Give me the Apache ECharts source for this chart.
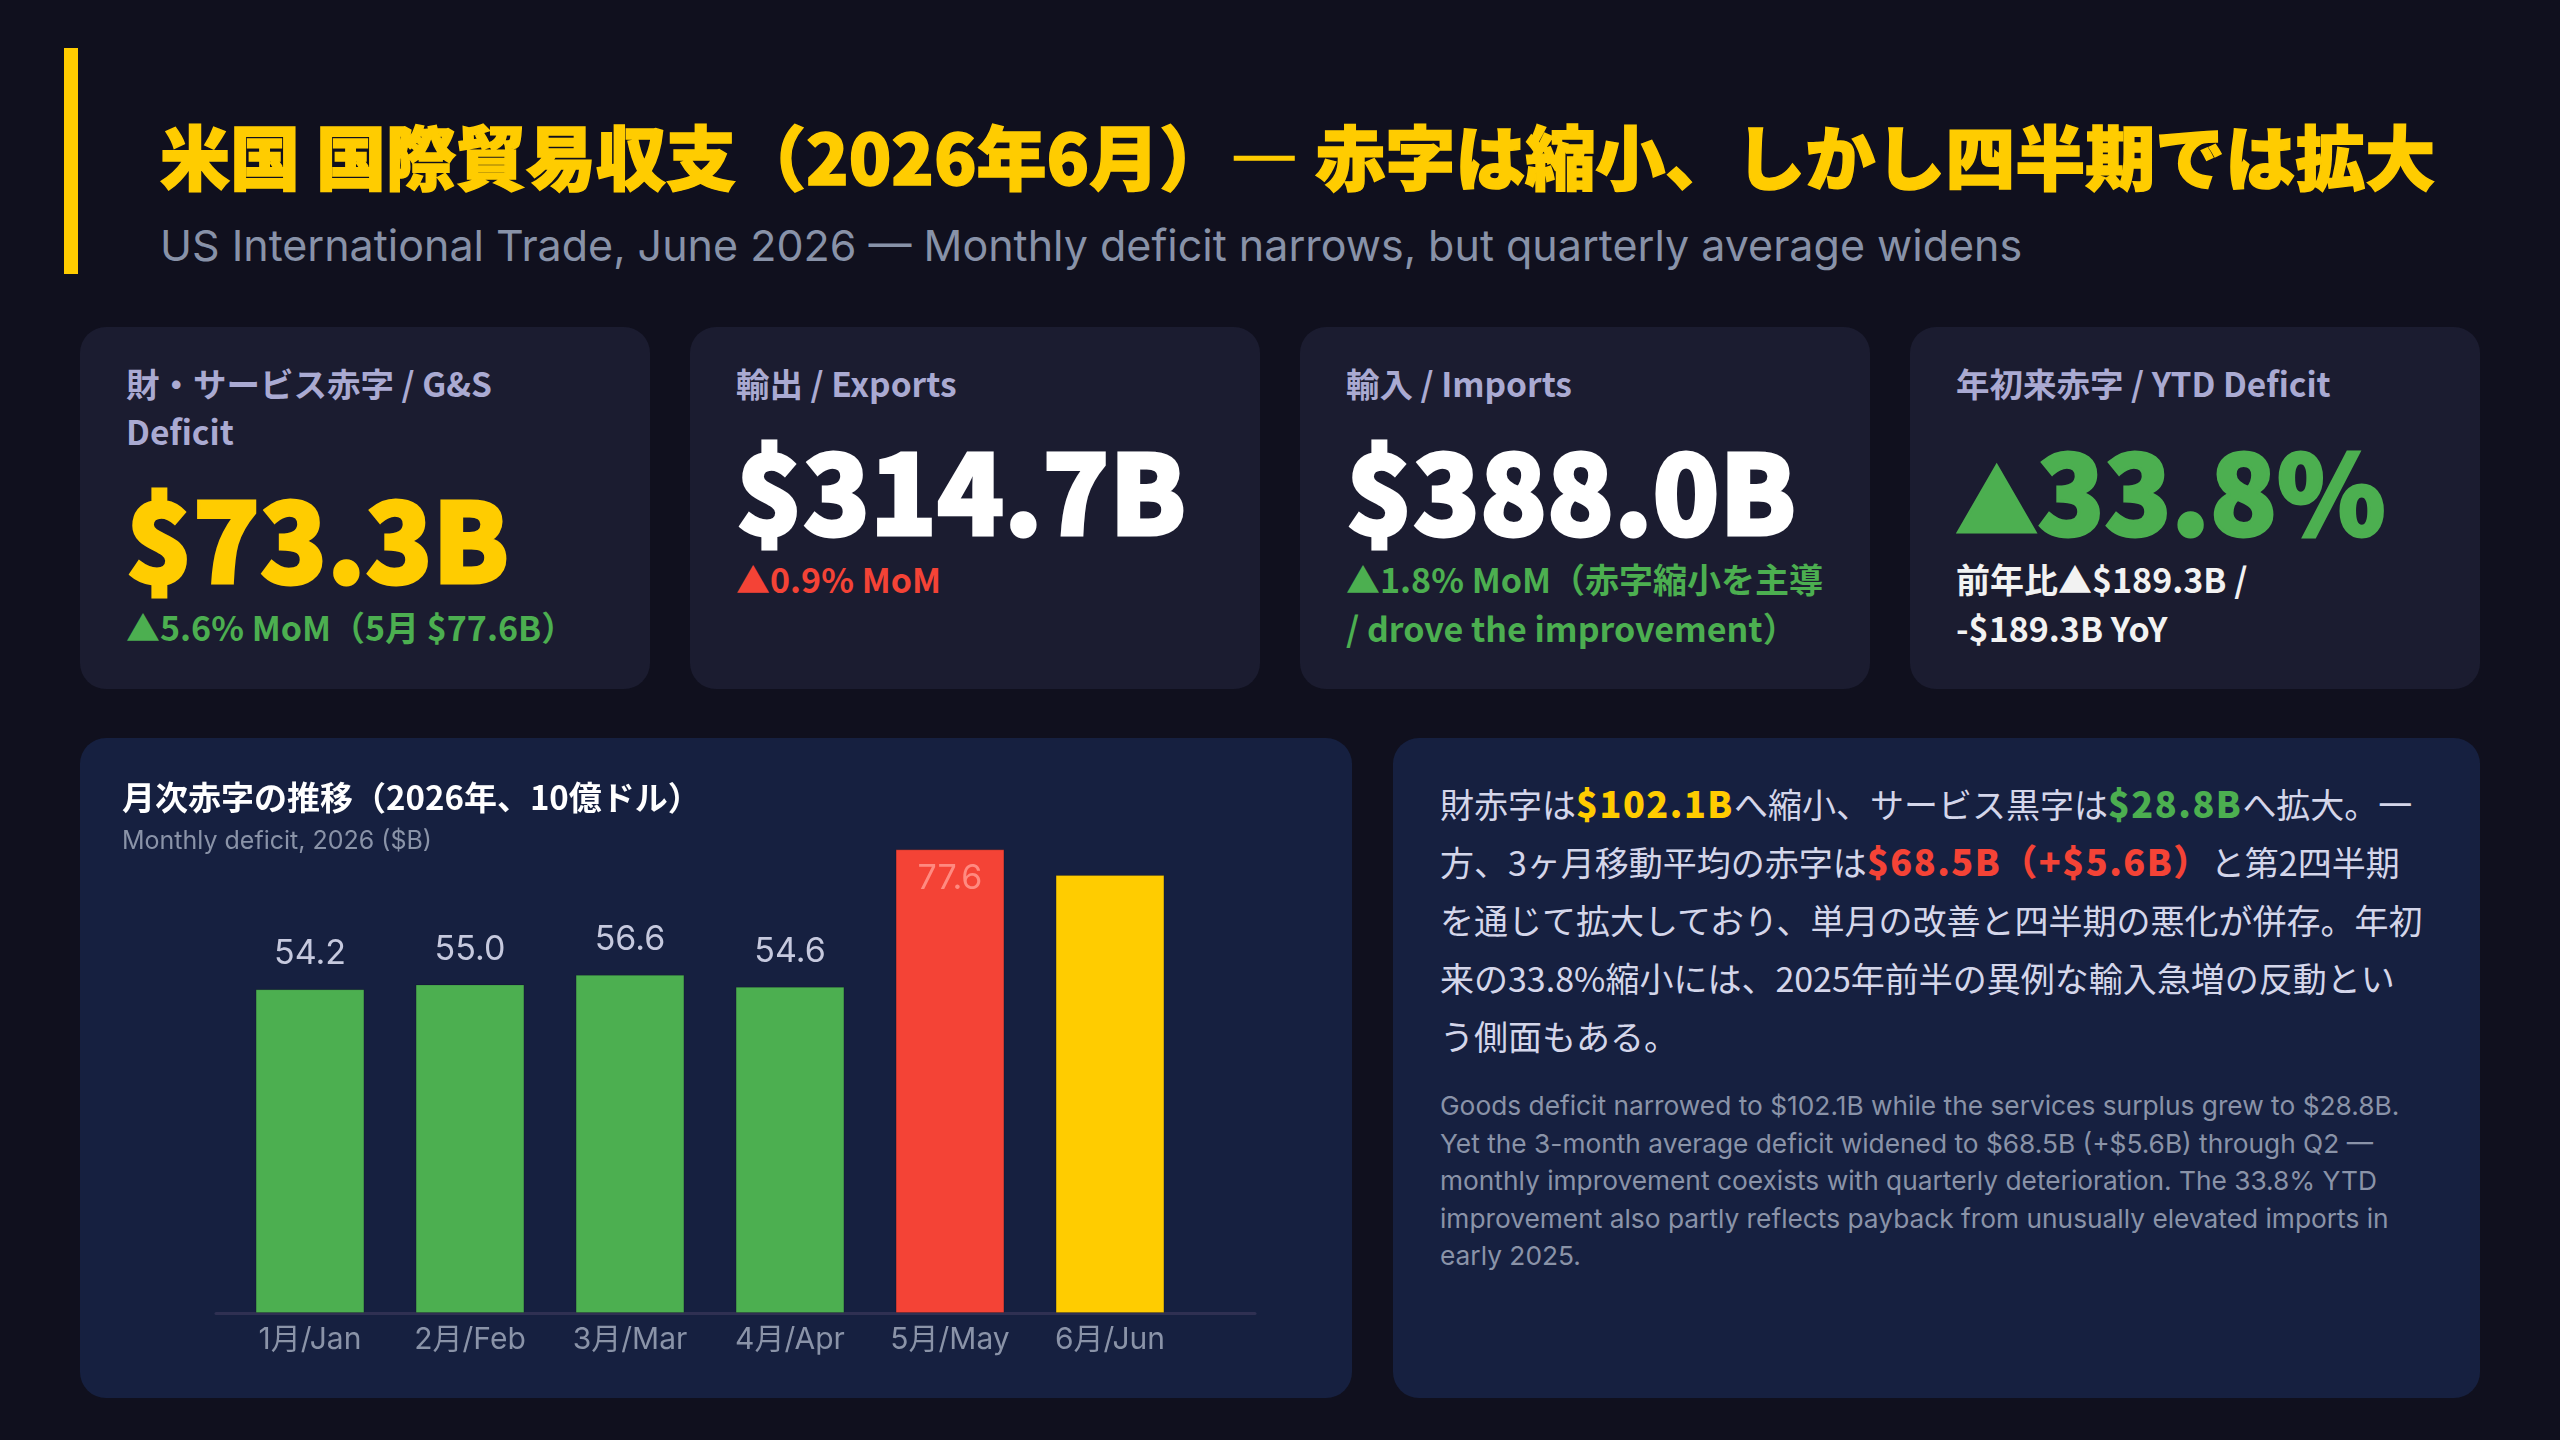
<!DOCTYPE html>
<html lang="ja">
<head>
<meta charset="UTF-8">
<title>米国 国際貿易収支（2026年6月）</title>
<script src="https://cdn.jsdelivr.net/npm/echarts/dist/echarts.min.js"></script>
<style>
  html, body { margin: 0; padding: 0; }
  body {
    width: 2560px; height: 1440px; position: relative; overflow: hidden;
    background: #10101e;
    font-family: "Noto Sans CJK JP", "Noto Sans", sans-serif;
  }
  .accent { position: absolute; left: 64px; top: 48px; width: 14px; height: 226px; background: #ffcc00; }
  .title {
    position: absolute; left: 160px; top: 112px; margin: 0;
    font-size: 70px; line-height: 86px; font-weight: 900; color: #ffcc00; white-space: nowrap;
    -webkit-text-stroke: 1.5px #ffcc00;
  }
  .subtitle {
    position: absolute; left: 160px; top: 219px;
    font-family: "Inter", "Noto Sans", sans-serif;
    font-size: 43px; line-height: 52px; color: #8892a8; white-space: nowrap;
  }
  .card {
    position: absolute; top: 327px; width: 570px; height: 362px;
    background: #1b1c30; border-radius: 26px;
    box-sizing: border-box; padding: 32px 46px 0 46px;
  }
  .card .lbl { font-size: 33.5px; line-height: 48px; font-weight: 700; color: #aaaad2; white-space: pre-line; }
  .card .val {
    margin-top: 21px; height: 118px; font-family: "Noto Sans CJK JP", "Noto Sans", sans-serif;
    font-size: 110px; line-height: 118px; font-weight: 900; white-space: nowrap;
    -webkit-text-stroke: 3px currentColor;
  }
  .card .val .tri { font-size: 0.74em; line-height: 0; vertical-align: 2px; }
  .card .note { margin-top: 8px; font-size: 34px; line-height: 49px; font-weight: 700; white-space: pre-line; }
  .panel {
    position: absolute; top: 738px; height: 660px; background: #162040; border-radius: 26px;
    box-sizing: border-box;
  }
  #chart { left: 80px; width: 1272px; }
  #story { left: 1393px; width: 1087px; padding: 37px 47px 0 47px; }
  .jp { font-size: 34px; line-height: 58px; color: #d4d6ea; white-space: nowrap; }
  .jp b { font-weight: 900; font-size: 1.06em; line-height: 1; letter-spacing: 1.5px; }
  .en {
    margin-top: 22px; font-family: "Inter", "Noto Sans", sans-serif;
    font-size: 26.3px; line-height: 37.5px; color: #8a93a8; white-space: pre-line;
  }
</style>
</head>
<body>
<div class="accent"></div>
<h1 class="title">米国 国際貿易収支（2026年6月）— 赤字は縮小、しかし四半期では拡大</h1>
<div class="subtitle">US International Trade, June 2026 — Monthly deficit narrows, but quarterly average widens</div>

<div id="cards"></div>

<div id="chart" class="panel"></div>

<div id="story" class="panel">
  <div class="jp">財赤字は<b style="color:#ffcc00">$102.1B</b>へ縮小、サービス黒字は<b style="color:#4caf50">$28.8B</b>へ拡大。一<br>方、3ヶ月移動平均の赤字は<b style="color:#f44336">$68.5B（+$5.6B）</b>と第2四半期<br>を通じて拡大しており、単月の改善と四半期の悪化が併存。年初<br>来の33.8%縮小には、2025年前半の異例な輸入急増の反動とい<br>う側面もある。</div>
  <div class="en">Goods deficit narrowed to $102.1B while the services surplus grew to $28.8B.
Yet the 3-month average deficit widened to $68.5B (+$5.6B) through Q2 —
monthly improvement coexists with quarterly deterioration. The 33.8% YTD
improvement also partly reflects payback from unusually elevated imports in
early 2025.</div>
</div>

<script>
// KPIカード
var kpiLabels = ['財・サービス赤字 / G&S\nDeficit', '輸出 / Exports', '輸入 / Imports', '年初来赤字 / YTD Deficit'];
var kpiValues = ['$73.3B', '$314.7B', '$388.0B', '▲33.8%'];
var kpiNotes = ['▲5.6% MoM（5月 $77.6B）', '▲0.9% MoM', '▲1.8% MoM（赤字縮小を主導\n/ drove the improvement）', '前年比▲$189.3B /\n-$189.3B YoY'];
var kpiValueColors = ['#ffcc00', '#ffffff', '#ffffff', '#4caf50'];
var kpiNoteColors = ['#4caf50', '#f44336', '#4caf50', '#f2f2f2'];

// 月次赤字（10億ドル）
var months = ['1月/Jan', '2月/Feb', '3月/Mar', '4月/Apr', '5月/May', '6月/Jun'];
var deficits = [54.2, 55.0, 56.6, 54.6, 77.6, 73.3];
var barColors = ['#4caf50', '#4caf50', '#4caf50', '#4caf50', '#f44336', '#ffcc00'];

var cards = document.getElementById('cards');
for (var i = 0; i < kpiLabels.length; i++) {
    var c = document.createElement('div');
    c.className = 'card';
    c.style.left = (80 + i * 610) + 'px';
    var l = document.createElement('div'); l.className = 'lbl'; l.textContent = kpiLabels[i];
    var v = document.createElement('div'); v.className = 'val';
    var txt = kpiValues[i];
    if (txt.charAt(0) === '▲') {
        // 三角は少し小さく
        var t = document.createElement('span'); t.className = 'tri'; t.textContent = '▲';
        v.appendChild(t);
        txt = txt.slice(1);
    }
    v.appendChild(document.createTextNode(txt));
    v.style.color = kpiValueColors[i];
    var n = document.createElement('div'); n.className = 'note'; n.textContent = kpiNotes[i];
    n.style.color = kpiNoteColors[i];
    c.appendChild(l); c.appendChild(v); c.appendChild(n);
    cards.appendChild(c);
}

var barData = deficits.map(function (d, i) {
    var item = { value: d, itemStyle: { color: barColors[i] } };
    if (i === 4) {
        // 5月はバーの内側に表示
        item.label = { position: 'insideTop', distance: 12, color: '#ff8a80' };
    } else if (i === 5) {
        item.label = { show: false };
    }
    return item;
});

var myChart = echarts.init(document.getElementById('chart'), null, { renderer: 'canvas' });
myChart.setOption({
    backgroundColor: 'transparent',
    animation: false,
    title: [
        {
            text: '月次赤字の推移（2026年、10億ドル）',
            left: 37, top: 38,
            textStyle: { color: '#ffffff', fontSize: 33, fontWeight: 'bold', fontFamily: 'Noto Sans CJK JP' }
        },
        {
            text: 'Monthly deficit, 2026 ($B)',
            left: 37, top: 86,
            textStyle: { color: '#8a93a8', fontSize: 25, fontWeight: 'normal', fontFamily: 'Inter, Noto Sans CJK JP' }
        }
    ],
    grid: [
        { left: 150, right: 162, top: 97, bottom: 85 },
        { left: 136, right: 97, top: 97, bottom: 85 }
    ],
    xAxis: [
        {
            type: 'category', data: months, gridIndex: 0,
            axisLine: { show: false }, axisTick: { show: false },
            axisLabel: { color: '#8a93a8', fontSize: 30, margin: 12, fontFamily: 'Inter, Noto Sans CJK JP' }
        },
        {
            type: 'category', data: [''], gridIndex: 1,
            axisLine: { show: true, lineStyle: { color: '#2f3052', width: 3 } },
            axisTick: { show: false }, axisLabel: { show: false }
        }
    ],
    yAxis: [
        { type: 'value', gridIndex: 0, min: 0, max: 80, show: false, splitLine: { show: false } },
        { type: 'value', gridIndex: 1, min: 0, max: 80, show: false, splitLine: { show: false } }
    ],
    series: [{
        type: 'bar',
        xAxisIndex: 0, yAxisIndex: 0,
        barWidth: '68%',
        z: 3,
        itemStyle: { borderColor: 'rgba(0,0,0,0.18)', borderWidth: 1 },
        label: {
            show: true, position: 'top', distance: 18,
            color: '#c6c9de', fontSize: 34, fontFamily: 'Inter, Noto Sans',
            formatter: function (p) { return p.value.toFixed(1); }
        },
        data: barData
    }]
});
window.onresize = myChart.resize;
</script>
</body>
</html>
